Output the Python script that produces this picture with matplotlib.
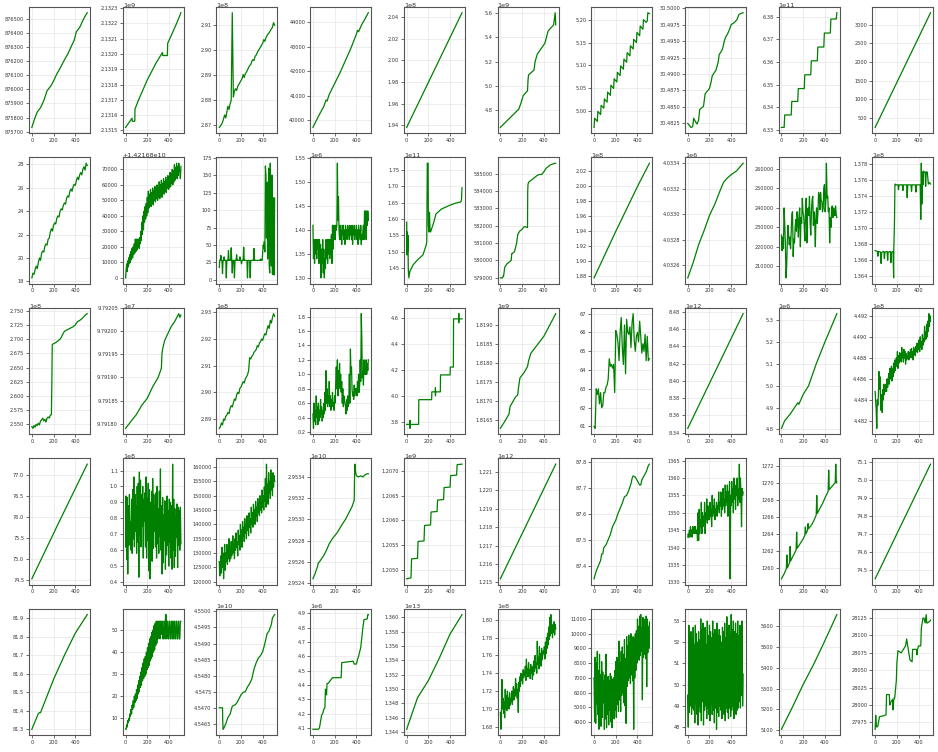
import numpy as np
import matplotlib
matplotlib.use("Agg")
from matplotlib import pyplot as plt

#DATA (y values, scale = offset text factor)
#x = None means the samples are evenly spaced over the 0..510 index range

#row 1
r1c1_x = [0,25,50,80,110,140,180,200,230,260,300,330,360,390,410,440,470,490,510]
r1c1_y = [875730,875790,875840,875870,875920,875990,876030,876060,876110,876150,876210,876250,876300,876350,876410,876440,876490,876520,876545]
r1c2_x = [0,40,60,62,85,87,120,200,280,340,342,385,388,420,470,510]
r1c2_y = [2.13152,2.13156,2.13158,2.13156,2.13156,2.13164,2.13170,2.13183,2.13194,2.13201,2.13199,2.13199,2.13207,2.13212,2.13220,2.13227]
r1c3_y = [2.8690,2.8695,2.8702,2.8710,2.8725,2.8740,2.8728,2.8752,2.8775,2.8762,2.8785,2.8798,2.9150,2.8812,2.8835,2.8845,2.8838,2.8855,2.8862,2.8870,
          2.8878,2.8885,2.8902,2.8890,2.8905,2.8912,2.8920,2.8930,2.8938,2.8942,2.8955,2.8962,2.8958,2.8975,2.8980,2.8990,2.8998,2.9005,2.9012,2.9020,
          2.9028,2.9042,2.9035,2.9050,2.9058,2.9065,2.9070,2.9078,2.9085,2.9092,2.9110,2.9100]
r1c4_x = [0,50,100,120,130,150,200,250,300,350,400,410,420,450,480,510]
r1c4_y = [39700,40150,40560,40820,40780,41050,41500,41950,42450,42950,43520,43680,43620,43920,44150,44400]
r1c5_x = [0,250,510]
r1c5_y = [1.938,1.990,2.044]
r1c6_x = [0,170,190,210,250,255,260,310,320,340,410,440,490,505,510]
r1c6_y = [4.66,4.81,4.86,4.92,4.96,5.05,5.09,5.13,5.20,5.26,5.35,5.45,5.50,5.60,5.50]
r1c7_x = [0,5,30,35,60,65,90,95,120,125,150,155,180,185,210,215,240,245,270,275,300,305,330,335,360,365,390,395,420,425,450,455,480,490,495,510]
r1c7_y = [4.965,4.985,4.978,5.000,4.993,5.013,5.007,5.027,5.020,5.042,5.035,5.057,5.050,5.071,5.064,5.085,5.078,5.099,5.092,5.114,
          5.107,5.128,5.121,5.143,5.136,5.157,5.150,5.172,5.165,5.186,5.179,5.200,5.194,5.197,5.215,5.213]
r1c8_x = [0,15,30,45,55,70,85,100,110,130,145,160,175,200,215,225,240,260,280,290,300,320,340,350,370,385,400,420,440,455,470,490,510]
r1c8_y = [30.4825,30.4822,30.4819,30.4820,30.4833,30.4828,30.4824,30.4830,30.4846,30.4849,30.4851,30.4870,30.4873,30.4878,30.4888,30.4897,30.4901,
          30.4906,30.4918,30.4930,30.4932,30.4938,30.4952,30.4956,30.4962,30.4968,30.4975,30.4977,30.4980,30.4983,30.4990,30.4992,30.4993]
r1c9_x = [0,25,30,90,95,150,155,210,215,270,275,330,335,390,395,450,455,500,505,510]
r1c9_y = [6.331,6.331,6.3365,6.3365,6.3425,6.3425,6.3482,6.3482,6.3543,6.3543,6.3605,6.3605,6.3666,6.3666,6.3728,6.3728,6.3790,6.3790,6.3790,6.3818]
r1c10_x = [0,510]
r1c10_y = [245,3320]

#row 2
r2c1_y = [18.3,18.7,18.6,19.0,19.3,19.1,19.6,20.0,19.8,20.4,20.6,20.5,21.0,21.2,21.1,21.6,21.7,22.2,22.5,22.3,22.8,23.0,22.9,23.4,23.6,23.5,
          24.0,24.2,24.1,24.5,24.7,24.6,25.1,25.3,25.2,25.7,25.9,25.7,26.1,26.3,26.2,26.6,26.9,26.7,27.1,27.3,27.1,27.6,27.8,27.5,28.1,27.9]
r2c2_y = [0,5000,9000,4000,11000,7000,13000,9000,15000,10000,17000,12000,19000,13000,20000,15000,22000,16000,25000,17000,
          25000,18000,25000,20000,25000,19000,26000,22000,30000,24000,36000,28000,40000,31000,43000,36000,46000,38000,48000,40000,
          52000,42000,56000,45000,54000,47000,57000,46000,55000,48000,58000,47000,56000,50000,59000,49000,57000,51000,60000,50000,
          58000,52000,62000,51000,60000,53000,63000,52000,61000,55000,64000,54000,62000,56000,65000,55000,63000,58000,66000,57000,
          65000,58000,68000,59000,67000,61000,70000,60000,69000,62000,73000,63000,71000,65000,74000,64000,72000,66000,74000,70000,68000,64000,72000]
r2c3_y = [18,28,28,35,28,28,9,28,28,33,28,28,28,3,28,28,28,42,28,28,
          28,28,46,28,10,28,28,28,3,28,28,28,36,28,28,28,28,28,33,28,
          28,23,28,28,28,47,28,28,28,28,28,28,3,28,28,28,28,3,28,28,
          28,28,28,28,45,28,28,28,28,28,28,28,28,28,28,28,30,28,28,28,
          40,50,45,55,40,163,150,60,140,30,45,160,20,10,167,100,20,150,8,118,40,7,117]
r2c4_y = [1.41,1.34,1.38,1.33,1.38,1.35,1.38,1.34,1.38,1.36,1.38,1.33,1.38,1.35,1.37,1.30,1.36,1.33,1.38,1.31,
          1.36,1.30,1.34,1.32,1.38,1.34,1.38,1.33,1.38,1.35,1.38,1.34,1.38,1.35,1.39,1.33,1.41,1.36,1.41,1.38,
          1.41,1.38,1.41,1.40,1.41,1.54,1.42,1.47,1.40,1.38,
          1.41,1.38,1.40,1.37,1.41,1.39,1.41,1.38,1.40,1.37,1.41,1.39,1.40,1.38,1.41,1.40,1.39,1.38,1.41,1.39,
          1.40,1.38,1.41,1.37,1.40,1.39,1.41,1.38,1.40,1.39,1.41,1.38,1.40,1.37,1.41,1.39,1.40,1.38,1.41,1.37,
          1.39,1.38,1.40,1.41,1.38,1.44,1.40,1.44,1.38,1.44,1.41,1.44,1.42]
r2c5_x = [0,3,6,9,12,15,20,30,60,100,150,170,180,185,190,198,200,205,210,215,220,230,250,270,320,400,450,500,505,510]
r2c5_y = [1.59,1.49,1.56,1.50,1.55,1.45,1.42,1.44,1.46,1.475,1.49,1.51,1.52,1.53,1.77,1.77,1.58,1.56,1.62,1.57,1.56,1.57,1.59,1.615,1.63,1.642,1.648,1.652,1.66,1.695]
r2c6_x = [0,20,25,30,40,60,80,100,105,110,130,150,160,170,180,200,220,250,252,255,260,280,300,320,340,360,380,400,420,440,460,480,510]
r2c6_y = [579000,579000,579100,579100,579600,579800,579900,580000,580400,580400,580500,581000,581500,581600,581700,581800,581950,581900,
          584000,584400,584500,584600,584700,584800,584900,584950,584950,585100,585300,585400,585500,585550,585600]
r2c7_x = [0,100,200,300,400,510]
r2c7_y = [1.878,1.909,1.940,1.970,2.000,2.031]
r2c8_x = [0,50,100,150,200,250,300,330,360,400,450,510]
r2c8_y = [4.03250,4.03262,4.03276,4.03287,4.03299,4.03308,4.03319,4.03325,4.03328,4.03331,4.03334,4.03340]
r2c9_y = [226000,218000,225000,219000,240000,232000,222000,204000,210000,223000,231000,226000,221000,225000,219000,228000,237000,238000,215000,224000,
          222000,230000,234000,228000,238000,233000,225000,236000,240000,220000,235000,232000,245000,238000,236000,230000,223000,240000,245000,222000,
          238000,240000,236000,246000,232000,226000,238000,244000,246000,231000,238000,233000,220000,236000,240000,232000,238000,248000,246000,239000,
          248000,244000,243000,238000,240000,250000,252000,238000,242000,263000,245000,246000,238000,240000,222000,235000,230000,240000,241000,235000,
          240000,238000,236000,241000,237000,235000]
r2c10_x = [0,20,25,30,50,55,60,80,85,90,110,115,120,140,145,150,165,170,172,178,182,186,190,210,215,220,250,255,260,290,295,300,
           330,335,340,370,375,380,400,415,420,425,430,435,440,445,450,460,465,470,480,490,500,510]
r2c10_y = [1.3672,1.3671,1.3665,1.3671,1.3670,1.3656,1.3670,1.3671,1.3662,1.3670,1.3671,1.3660,1.3670,1.3671,1.3657,1.3670,1.3671,1.3638,
           1.3676,1.3708,1.3754,1.3755,1.3754,1.3754,1.3748,1.3754,1.3754,1.3747,1.3754,1.3754,1.3738,1.3754,1.3754,1.3746,1.3754,1.3754,
           1.3745,1.3754,1.3754,1.3754,1.3711,1.3781,1.3730,1.3770,1.3754,1.3771,1.3770,1.3770,1.3752,1.3770,1.3770,1.3755,1.3757,1.3755]

#row 3
r3c1_x = [0,10,20,30,40,50,60,70,80,90,100,110,120,130,140,150,160,170,180,184,188,200,220,240,260,270,280,
          300,320,340,360,380,400,420,440,460,480,500,510]
r3c1_y = [2.546,2.543,2.548,2.545,2.550,2.548,2.552,2.549,2.556,2.558,2.561,2.556,2.559,2.554,2.561,2.563,2.561,2.566,2.567,2.620,2.691,
          2.692,2.694,2.697,2.700,2.703,2.707,2.714,2.716,2.718,2.720,2.722,2.725,2.731,2.733,2.736,2.740,2.744,2.745]
r3c2_x = [0,50,100,150,200,250,300,330,335,340,360,380,400,420,450,490,500,510]
r3c2_y = [9.79179,9.791805,9.79182,9.79184,9.791855,9.79188,9.79190,9.79192,9.79195,9.79196,9.79198,9.79199,9.79200,9.79201,9.79202,9.792038,9.79203,9.792035]
r3c3_y = [2.8865,2.8870,2.8885,2.8878,2.8900,2.8895,2.8910,2.8915,2.8925,2.8920,2.8940,2.8950,2.8945,2.8960,2.8975,2.8970,2.8990,2.9000,2.8995,2.9015,
          2.9020,2.9030,2.9040,2.9035,2.9050,2.9058,2.9065,2.9080,2.9130,2.9125,2.9135,2.9140,2.9150,2.9155,2.9160,2.9175,2.9170,2.9185,2.9190,2.9200,
          2.9195,2.9210,2.9220,2.9215,2.9235,2.9250,2.9240,2.9270,2.9260,2.9280,2.9295,2.9285]
r3c4_y = [0.45,0.25,0.6,0.35,0.5,0.3,0.7,0.4,0.55,0.3,0.6,0.35,0.5,0.4,0.65,0.45,0.55,0.35,0.5,0.4,
          0.6,0.45,0.75,0.5,1.05,0.6,0.8,0.55,0.7,0.6,0.9,0.55,0.7,0.5,0.65,0.6,0.75,0.55,0.6,0.5,
          0.7,0.6,0.9,1.1,0.8,1.2,0.7,1.05,0.85,1.15,0.8,1.0,0.75,0.9,0.6,0.8,0.55,0.7,0.65,0.6,
          0.55,0.45,0.65,0.5,0.7,0.55,0.6,1.0,0.6,1.35,1.0,1.1,0.8,0.7,0.75,0.65,0.85,0.7,0.8,0.75,
          0.8,0.7,0.9,0.75,1.0,0.75,0.85,1.2,0.9,1.84,1.5,0.95,1.05,0.85,1.2,1.0,1.1,1.0,1.2,1.0,1.15,1.05,1.2]
r3c5_x = [0,28,30,30,30,32,110,112,230,232,263,265,265,265,267,310,312,400,402,430,432,478,480,480,480,482,510]
r3c5_y = [3.78,3.78,3.78,3.81,3.75,3.78,3.78,3.97,3.97,4.03,4.03,4.03,4.06,4.00,4.03,4.03,4.16,4.16,4.22,4.22,4.59,4.59,4.59,4.63,4.56,4.59,4.59]
r3c6_x = [0,40,80,90,100,140,160,165,180,220,250,260,280,320,400,510]
r3c6_y = [1.81627,1.81645,1.81665,1.81685,1.81690,1.81710,1.81715,1.81730,1.81760,1.81775,1.81790,1.81805,1.81825,1.81840,1.81870,1.81930]
r3c7_y = [61.0,60.9,63.0,62.7,63.0,62.2,62.8,62.0,62.1,62.8,62.8,63.1,63.2,63.5,64.6,64.2,64.3,64.1,64.3,62.8,66.1,65.9,65.5,64.5,66.0,66.8,
          65.2,64.3,66.4,63.8,66.7,66.0,65.9,66.3,65.2,66.5,67.0,65.6,65.0,65.8,66.0,65.5,66.6,65.8,64.9,65.4,65.0,65.9,64.5,65.8,64.5,64.6]
r3c8_x = [0,510]
r3c8_y = [8.345,8.478]
r3c9_x = [0,30,80,150,160,200,250,320,400,510]
r3c9_y = [4.805,4.84,4.87,4.922,4.915,4.96,5.00,5.10,5.20,5.33]
r3c10_y = [4.4848,4.4838,4.4830,4.4813,4.4840,4.4835,4.4845,4.4867,4.4850,4.4862,4.4838,4.4830,4.4845,4.4828,4.4850,4.4840,4.4855,4.4845,4.4852,4.4848,
           4.4855,4.4848,4.4860,4.4852,4.4858,4.4865,4.4855,4.4870,4.4860,4.4864,4.4872,4.4858,4.4870,4.4862,4.4875,4.4866,4.4878,4.4868,4.4874,4.4880,
           4.4872,4.4886,4.4870,4.4882,4.4875,4.4885,4.4878,4.4884,4.4876,4.4890,4.4880,4.4885,4.4876,4.4888,4.4880,4.4886,4.4874,4.4884,4.4878,4.4882,
           4.4880,4.4886,4.4878,4.4885,4.4880,4.4888,4.4882,4.4889,4.4880,4.4886,4.4878,4.4890,4.4883,4.4888,4.4882,4.4891,4.4886,4.4894,4.4885,4.4890,
           4.4888,4.4897,4.4886,4.4900,4.4890,4.4895,4.4888,4.4902,4.4892,4.4898,4.4895,4.4910,4.4897,4.4905,4.4898,4.4912,4.4900,4.4915,4.4905,4.4922,
           4.4910,4.4920,4.4915]

#row 4
r4c1_x = [0,250,510]
r4c1_y = [74.52,75.88,77.27]
r4c2_y = [0.62,0.94,0.54,0.93,0.45,0.88,0.63,0.95,0.70,0.78,0.60,0.92,0.58,0.98,0.67,1.06,0.62,0.95,0.72,0.88,
          0.58,1.00,0.65,1.02,0.43,1.09,0.70,1.04,0.62,0.95,0.75,1.00,0.55,0.92,0.78,0.96,0.62,1.06,0.55,0.93,
          0.66,1.02,0.47,0.98,0.42,0.90,0.64,0.97,0.53,1.05,0.61,0.95,0.72,0.88,0.62,0.96,0.55,1.00,0.64,0.86,
          0.58,0.97,0.69,1.11,0.60,0.88,0.45,0.93,0.52,0.82,0.66,0.91,0.48,0.86,0.57,0.94,0.63,0.85,0.50,0.92,
          0.65,0.90,0.55,0.88,0.48,1.14,0.60,0.92,0.49,0.86,0.56,0.80,0.68,0.89,0.49,0.87,0.63,0.85,0.60,0.87,0.64]
r4c3_y = [127000,122000,126000,129000,123000,132000,125000,130000,121000,128000,133000,124000,130000,127000,133000,126000,131000,128000,135000,127000,
          132000,128000,134000,129000,131000,136000,130000,133000,128000,135000,131000,137000,132000,134000,129000,138000,133000,136000,131000,140000,
          134000,138000,132000,141000,136000,139000,134000,142000,137000,140000,135000,143000,138000,141000,136000,144000,139000,142000,137000,146000,
          140000,144000,139000,147000,142000,145000,140000,148000,143000,146000,141000,149000,144000,147000,143000,150000,145000,148000,144000,152000,
          146000,150000,145000,153000,148000,156000,146000,161000,150000,154000,147000,158000,151000,155000,149000,159000,152000,156000,150000,158000,
          153000,157000,155000]
r4c4_x = [0,20,40,50,60,80,100,120,150,180,220,250,280,300,340,360,380,383,386,395,400,420,440,460,480,500,510]
r4c4_y = [2.95244,2.95249,2.95255,2.95259,2.95260,2.95263,2.95266,2.95270,2.95277,2.95282,2.95287,2.95292,2.95297,2.95300,2.95308,
          2.95312,2.95318,2.95340,2.95352,2.95343,2.95341,2.95340,2.95341,2.95340,2.95342,2.95343,2.95343]
r4c5_x = [0,40,45,100,105,160,165,220,225,280,285,340,345,400,405,460,465,510]
r4c5_y = [1.20483,1.20485,1.20523,1.20524,1.20558,1.20559,1.20590,1.20591,1.20617,1.20618,1.20641,1.20642,1.20666,1.20667,1.20690,1.20691,1.20712,1.20713]
r4c6_x = [0,510]
r4c6_y = [1.2152,1.2214]
r4c7_x = [0,20,40,60,70,80,90,100,110,130,150,170,200,220,240,260,280,300,320,340,350,360,380,400,420,430,440,460,480,500,510]
r4c7_y = [87.35,87.38,87.40,87.42,87.445,87.445,87.47,87.475,87.48,87.50,87.52,87.55,87.575,87.60,87.62,87.64,87.665,87.67,87.69,87.715,
          87.735,87.745,87.74,87.725,87.71,87.71,87.73,87.745,87.76,87.785,87.79]
r4c8_y = [1343,1344,1343,1345,1343,1346,1344,1345,1343,1346,1344,1345,1346,1344,1346,1345,1344,1345,1342,1350,
          1342,1351,1344,1348,1346,1353,1344,1350,1346,1349,1347,1353,1344,1350,1348,1354,1347,1352,1348,1349,
          1348,1353,1349,1351,1346,1355,1349,1352,1350,1354,1348,1351,1350,1353,1349,1352,1351,1356,1350,1353,
          1352,1356,1349,1355,1351,1357,1352,1354,1350,1358,1352,1356,1353,1358,1349,1356,1353,1359,1331,1355,
          1352,1359,1353,1357,1350,1360,1354,1358,1351,1357,1355,1360,1352,1357,1354,1364,1353,1360,1356,1346,1357,1355,1356]
r4c9_x = [0,25,45,50,55,75,80,85,100,135,140,145,180,200,215,220,225,240,245,250,280,300,320,325,330,350,380,400,430,435,440,460,480,495,500,505,510]
r4c9_y = [1258.7,1259.3,1259.9,1261.5,1260.0,1260.6,1262.5,1260.8,1261.2,1262.1,1264.2,1262.3,1263.0,1263.4,1263.8,1264.8,1264.0,1264.4,1265.2,
          1264.6,1265.1,1265.6,1266.2,1268.5,1266.4,1266.9,1267.6,1268.2,1269.0,1271.5,1269.2,1269.5,1269.8,1270.0,1272.2,1270.0,1270.1]
r4c10_x = [0,510]
r4c10_y = [74.45,75.09]

#row 5
r5c1_x = [0,60,70,80,200,300,400,510]
r5c1_y = [81.30,81.385,81.39,81.39,81.57,81.70,81.82,81.92]
r5c2_y = [5,5,7,6,9,8,10,9,12,11,14,12,16,14,18,15,20,17,21,18,
          23,19,25,21,27,22,29,24,31,25,33,27,35,28,37,29,38,30,40,32,
          42,33,44,34,46,36,47,37,49,38,50,40,52,41,53,43,54,44,54,46,
          54,47,54,46,54,48,
          54,54,46,46,54,54,46,57,57,46,54,54,46,46,54,54,46,46,54,54,46,46,54,54,46,46,54,54,46,46,54,54,46,46,54,54]
r5c3_x = [0,30,32,35,40,60,80,100,120,150,170,200,220,240,260,280,300,320,340,360,380,400,420,440,460,480,490,500,510]
r5c3_y = [4.5470,4.5470,4.5466,4.54633,4.54635,4.5465,4.5467,4.5468,4.54705,4.5471,4.5472,4.5474,4.54748,4.5475,4.54765,
          4.54775,4.5479,4.5482,4.5484,4.54855,4.54862,4.54875,4.5490,4.5493,4.5494,4.5496,4.5498,4.54985,4.5499]
r5c4_x = [0,50,60,80,90,100,110,115,120,125,130,140,160,180,260,265,370,380,400,410,420,440,460,470,500,505,510]
r5c4_y = [4.09,4.09,4.10,4.19,4.20,4.23,4.24,4.37,4.36,4.33,4.41,4.41,4.43,4.45,4.45,4.555,4.565,4.545,4.545,4.575,4.60,4.66,4.80,4.855,4.86,4.89,4.89]
r5c5_x = [0,100,200,300,400,510]
r5c5_y = [1.3444,1.3488,1.3512,1.3543,1.3577,1.3604]
r5c6_y = [1.696,1.677,1.690,1.733,1.700,1.712,1.695,1.708,1.690,1.722,1.700,1.715,1.698,1.720,1.703,1.712,1.700,1.718,1.704,1.711,
          1.708,1.720,1.705,1.712,1.725,1.710,1.722,1.714,1.734,1.716,1.728,1.712,1.722,1.696,1.730,1.720,1.736,1.725,1.740,1.732,
          1.738,1.728,1.744,1.735,1.742,1.738,1.748,1.732,1.756,1.740,1.745,1.736,1.752,1.738,1.744,1.734,1.750,1.740,1.746,1.733,
          1.748,1.738,1.754,1.742,1.760,1.746,1.752,1.740,1.776,1.750,1.758,1.745,1.770,1.752,1.762,1.748,1.768,1.755,1.760,1.765,
          1.762,1.770,1.756,1.775,1.762,1.780,1.768,1.785,1.772,1.792,1.778,1.803,1.782,1.806,1.785,1.795,1.780,1.790,1.786,1.798,
          1.783,1.795,1.790]
r5c7_y = [7000,4000,8400,3900,8000,5200,8800,4500,7500,3500,8600,4800,7200,3700,8100,4300,7400,5300,6800,3500,
          7200,4200,8600,3600,7000,4500,7100,3800,6800,4800,7300,4000,7100,3600,6900,5000,7000,4200,7500,4800,
          8100,4300,8400,5200,8200,4700,9500,5500,8000,4700,8800,5800,9100,6000,8600,5300,9600,5100,8300,3900,
          9800,6400,9200,6800,9900,7000,9400,6600,10000,7200,9500,6800,9800,3500,9700,7000,10000,7500,10200,8000,
          11000,8500,10500,8200,11200,8500,11300,8800,10400,5500,11100,8400,11000,8600,10800,8300,11200,6400,11000,8700,
          10500,9000,10800]
r5c8_y = [49.5,48.0,52.8,48.7,52.3,49.0,52.5,48.6,52.2,48.9,52.7,48.8,51.9,48.2,52.8,49.1,52.4,48.6,52.0,48.1,
          52.5,49.0,52.1,48.7,53.1,48.3,52.6,49.2,52.9,48.1,52.0,48.8,52.7,49.0,51.9,48.4,53.0,48.9,52.3,48.6,
          52.8,48.3,52.5,49.1,52.2,48.6,53.0,48.8,52.4,48.2,52.6,48.9,52.1,47.9,52.9,48.7,52.3,48.5,52.6,49.0,
          52.3,48.8,52.0,48.4,52.7,49.1,52.5,48.6,52.9,48.3,52.2,48.9,53.2,48.7,52.6,48.4,52.8,48.9,52.4,48.5,
          53.3,48.8,52.6,49.0,53.0,48.4,52.5,48.9,52.9,48.6,52.4,48.8,53.0,48.9,52.3,49.2,52.8,48.9,52.0,49.5,53.0,49.0,50.5]
r5c9_x = [0,100,200,300,400,510]
r5c9_y = [5105,5210,5320,5420,5530,5655]
r5c10_x = [0,5,10,15,25,40,90,100,105,130,135,140,160,165,170,175,180,195,200,210,240,260,280,290,300,310,320,340,345,350,
           380,385,390,400,420,425,440,450,460,470,475,480,500,510]
r5c10_y = [27965,27985,27972,27968,27970,27983,27985,27986,28015,28015,28000,28003,28008,27993,28005,28010,28010,28035,28060,28078,
           28075,28080,28085,28095,28085,28075,28065,28062,28080,28080,28080,28072,28080,28085,28085,28110,28125,28125,28118,28130,
           28118,28118,28120,28122]

#(x, y, scale, offset) per panel, row by row
panels = [
    (r1c1_x, r1c1_y, 1, 0), (r1c2_x, r1c2_y, 1e9, 0), (None, r1c3_y, 1e8, 0), (r1c4_x, r1c4_y, 1, 0), (r1c5_x, r1c5_y, 1e8, 0),
    (r1c6_x, r1c6_y, 1e9, 0), (r1c7_x, r1c7_y, 1, 0), (r1c8_x, r1c8_y, 1, 0), (r1c9_x, r1c9_y, 1e11, 0), (r1c10_x, r1c10_y, 1, 0),
    (None, r2c1_y, 1, 0), (None, r2c2_y, 1, 1.42168e10), (None, r2c3_y, 1, 0), (None, r2c4_y, 1e6, 0), (r2c5_x, r2c5_y, 1e11, 0),
    (r2c6_x, r2c6_y, 1, 0), (r2c7_x, r2c7_y, 1e8, 0), (r2c8_x, r2c8_y, 1e6, 0), (None, r2c9_y, 1, 0), (r2c10_x, r2c10_y, 1e8, 0),
    (r3c1_x, r3c1_y, 1e8, 0), (r3c2_x, r3c2_y, 1e7, 0), (None, r3c3_y, 1e8, 0), (None, r3c4_y, 1, 0), (r3c5_x, r3c5_y, 1, 0),
    (r3c6_x, r3c6_y, 1e9, 0), (None, r3c7_y, 1, 0), (r3c8_x, r3c8_y, 1e12, 0), (r3c9_x, r3c9_y, 1e6, 0), (None, r3c10_y, 1e8, 0),
    (r4c1_x, r4c1_y, 1, 0), (None, r4c2_y, 1e8, 0), (None, r4c3_y, 1, 0), (r4c4_x, r4c4_y, 1e10, 0), (r4c5_x, r4c5_y, 1e9, 0),
    (r4c6_x, r4c6_y, 1e12, 0), (r4c7_x, r4c7_y, 1, 0), (None, r4c8_y, 1, 0), (r4c9_x, r4c9_y, 1, 0), (r4c10_x, r4c10_y, 1, 0),
    (r5c1_x, r5c1_y, 1, 0), (None, r5c2_y, 1, 0), (r5c3_x, r5c3_y, 1e10, 0), (r5c4_x, r5c4_y, 1e6, 0), (r5c5_x, r5c5_y, 1e13, 0),
    (None, r5c6_y, 1e8, 0), (None, r5c7_y, 1, 0), (None, r5c8_y, 1, 0), (r5c9_x, r5c9_y, 1, 0), (r5c10_x, r5c10_y, 1, 0),
]

#------------------------------------------------
#PLOT:

fig, axes = plt.subplots(5, 10, figsize=(9.38, 7.52), dpi=100)
fig.subplots_adjust(left=0.031, right=0.995, bottom=0.0226, top=0.9907, wspace=0.538, hspace=0.193)

for ax, (xs, ys, scale, offset) in zip(axes.flat, panels):
    ys = np.array(ys, dtype=float) * scale + offset
    if xs is None:
        xs = np.linspace(0, 510, len(ys))
    ax.plot(xs, ys, color="green", linewidth=0.9)
    ax.set_xticks([0, 200, 400])
    ax.grid(True, color="#e6e6e6", linewidth=0.5)
    ax.set_axisbelow(True)
    ax.tick_params(labelsize=3.6, length=2, width=0.5, pad=1.5, colors="#333333")
    # offset text ("1e9" etc.) sits tight on top of the axes
    ax.yaxis.OFFSETTEXTPAD = 0.3
    ax.yaxis.get_offset_text().set_fontsize(4.6)
    for sp in ax.spines.values():
        sp.set_color("#555555")
        sp.set_linewidth(0.8)

plt.savefig("out.png", dpi=100)
plt.close()
